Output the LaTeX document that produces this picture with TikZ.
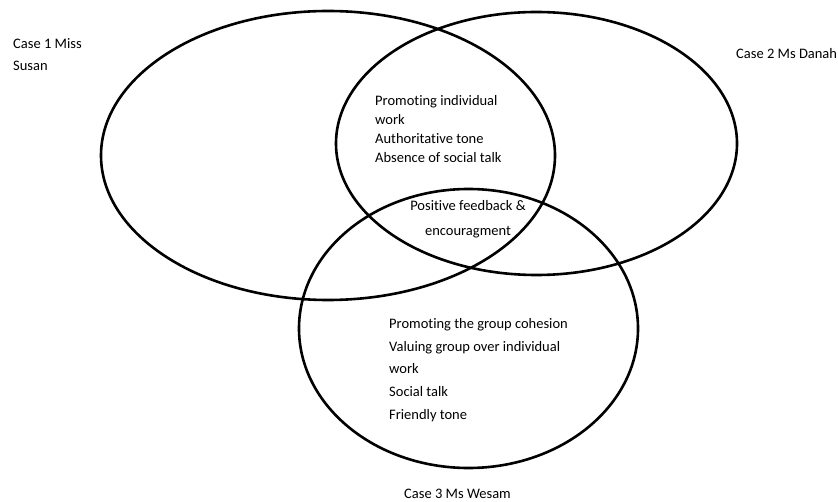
\documentclass[tikz,border=0pt]{standalone}
\usepackage{fontspec}
\setmainfont{Carlito}[Ligatures=NoCommon]
\usetikzlibrary{calc}

\begin{document}
\begin{tikzpicture}[
    x=1pt, y=-1pt, % Pixel-like units, y pointing down
    setline/.style={line width=2.6pt}, % Style for the set borders
    labelstyle/.style={inner sep=0pt, anchor=base west, align=left,
        font=\fontsize{14.5}{22.5}\selectfont}, % Style for the labels (base = last line)
]

    % Keep the page at the reference size
    \useasboundingbox (0,0) rectangle (838,502);

    % Define centres and radii of the three sets
    \coordinate (susan) at (328, 155.5);
    \def\susanrx{227}   % Half width of Case 1
    \def\susanry{144.5} % Half height of Case 1
    \coordinate (danah) at (536.5, 143.5);
    \def\danahrx{200.5}
    \def\danahry{131.5}
    \coordinate (wesam) at (468.5, 328.5);
    \def\wesamrx{169.5}
    \def\wesamry{139.5}

    % --- Layer 1: The three set borders ---
    \draw[setline] (susan) ellipse [x radius=\susanrx, y radius=\susanry];
    \draw[setline] (danah) ellipse [x radius=\danahrx, y radius=\danahry];
    \draw[setline] (wesam) ellipse [x radius=\wesamrx, y radius=\wesamry];

    % --- Layer 2: Case names ---
    \node[labelstyle, font=\fontsize{14.5}{22}\selectfont] (case1) at (13, 71) {Case 1 Miss\\Susan};
    \node[labelstyle] (case2) at (736, 59) {Case 2 Ms Danah};
    \node[labelstyle] (case3) at (404, 498) {Case 3 Ms Wesam};

    % --- Layer 3: Contents of the overlaps ---
    \node[labelstyle, font=\fontsize{14.5}{19.3}\selectfont] (common12) at (375, 163)
        {Promoting individual\\work\\Authoritative tone\\Absence of social talk};
    \node[labelstyle, anchor=base, align=center, font=\fontsize{14.5}{25}\selectfont] (common123) at (468, 236)
        {Positive feedback \&\\encouragment};
    \node[labelstyle] (only3) at (389, 419)
        {Promoting the group cohesion\\Valuing group over individual\\work\\Social talk\\Friendly tone};

\end{tikzpicture}
\end{document}
